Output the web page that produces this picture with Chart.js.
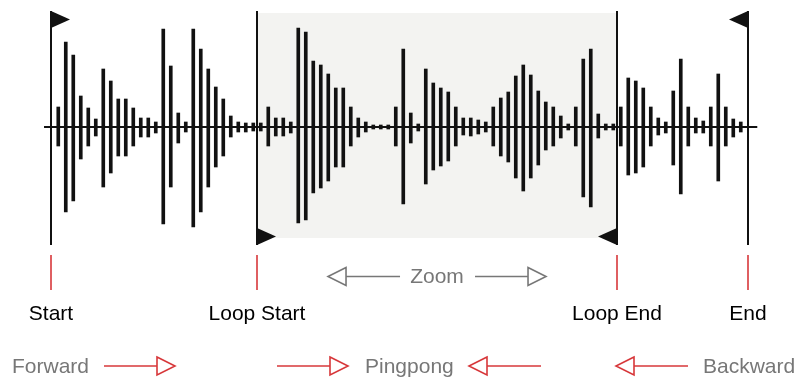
<!DOCTYPE html>
<html>
<head>
<meta charset="utf-8">
<script src="https://cdn.jsdelivr.net/npm/chart.js@4.4.1/dist/chart.umd.min.js"></script>
<style>
  html, body { margin: 0; padding: 0; background: #fff; }
  #wrap { width: 801px; height: 379px; }
</style>
</head>
<body>
<div id="wrap"><canvas id="chart"></canvas></div>
<script>
// sample amplitudes above / below the centre line, one per sample
const upper = [20, 85, 72, 31, 19, 8, 58, 46, 28, 28, 19, 9, 9, 5, 98, 61, 14, 5, 98, 78,
  58, 40, 28, 11, 5, 4, 4, 4, 20, 9, 9, 5, 99, 95, 66, 62, 53, 39, 39, 20,
  9, 5, 2, 2, 2, 20, 78, 14, 3, 58, 44, 39, 35, 20, 9, 9, 7, 5, 20, 29,
  35, 51, 62, 52, 36, 25, 20, 11, 3, 20, 68, 78, 13, 3, 3, 20, 49, 46, 39, 20,
  9, 5, 36, 68, 20, 9, 6, 20, 53, 20, 8, 5];
const lower = [19, 85, 74, 32, 19, 9, 60, 46, 29, 29, 19, 10, 10, 6, 97, 60, 16, 5, 100, 85,
  60, 40, 29, 10, 5, 5, 4, 4, 19, 9, 9, 6, 96, 93, 66, 61, 54, 40, 40, 19,
  10, 5, 2, 2, 2, 19, 77, 16, 4, 57, 43, 39, 34, 19, 8, 9, 7, 5, 19, 29,
  35, 51, 64, 51, 38, 23, 19, 11, 3, 19, 70, 80, 11, 3, 3, 19, 48, 46, 40, 19,
  8, 6, 38, 67, 19, 6, 6, 19, 54, 19, 10, 5];

// markers, in sample units
const markerNames = ["Start", "Loop Start", "Loop End", "End"];
const markerPos = [-1, 26.5, 74.5, 92];
const flagSide = ["top", "bottom", "bottom", "top"];
const flagDir = [1, 1, -1, -1];

const zoomLabel = "Zoom";
const modeLabels = ["Forward", "Pingpong", "Backward"];

const samples = upper.map((u, i) => ({ x: i, y: [-lower[i], u] }));

const INK = "#111111";
const RED = "#d7373a";
const GREY = "#777777";
const FONT = '21px "Liberation Sans", Arial, sans-serif';

function arrow(ctx, from, to, y, color) {
  const dir = to > from ? 1 : -1;
  const base = to - dir * 18;
  ctx.strokeStyle = color;
  ctx.lineWidth = 1.6;
  ctx.beginPath();
  ctx.moveTo(from, y);
  ctx.lineTo(base, y);
  ctx.stroke();
  ctx.beginPath();
  ctx.moveTo(base, y - 9);
  ctx.lineTo(to, y);
  ctx.lineTo(base, y + 9);
  ctx.closePath();
  ctx.stroke();
}

const decor = {
  id: "decor",
  beforeDatasetsDraw(chart) {
    const { ctx, scales: { x } } = chart;
    const x0 = x.getPixelForValue(markerPos[1]);
    const x1 = x.getPixelForValue(markerPos[2]);
    ctx.save();
    ctx.fillStyle = "#f3f3f1";
    ctx.fillRect(x0, 13, x1 - x0, 225);
    ctx.restore();
  },
  afterDatasetsDraw(chart) {
    const { ctx, scales: { x, y } } = chart;
    const cy = y.getPixelForValue(0);
    ctx.save();

    // centre line
    ctx.strokeStyle = INK;
    ctx.lineWidth = 2;
    ctx.beginPath();
    ctx.moveTo(x.getPixelForValue(-1.9), cy);
    ctx.lineTo(x.getPixelForValue(93.2), cy);
    ctx.stroke();

    ctx.font = FONT;
    markerPos.forEach((p, i) => {
      const px = Math.round(x.getPixelForValue(p));
      // marker line
      ctx.strokeStyle = INK;
      ctx.lineWidth = 2;
      ctx.beginPath();
      ctx.moveTo(px, 11);
      ctx.lineTo(px, 245);
      ctx.stroke();
      // flag
      const top = flagSide[i] === "top" ? 11 : 228;
      ctx.fillStyle = INK;
      ctx.beginPath();
      ctx.moveTo(px, top);
      ctx.lineTo(px + flagDir[i] * 19, top + 8.5);
      ctx.lineTo(px, top + 17);
      ctx.closePath();
      ctx.fill();
      // red tick
      ctx.strokeStyle = RED;
      ctx.lineWidth = 1.6;
      ctx.beginPath();
      ctx.moveTo(px, 255);
      ctx.lineTo(px, 290);
      ctx.stroke();
      // label
      ctx.fillStyle = "#000";
      ctx.textAlign = "center";
      ctx.fillText(markerNames[i], px, 320);
    });

    // zoom row
    const lx = x.getPixelForValue(markerPos[1]);
    const rx = x.getPixelForValue(markerPos[2]);
    const mid = (lx + rx) / 2;
    ctx.fillStyle = GREY;
    ctx.textAlign = "center";
    ctx.fillText(zoomLabel, mid, 283);
    arrow(ctx, mid - 37, lx + 71, 276.5, GREY);
    arrow(ctx, mid + 38, rx - 71, 276.5, GREY);

    // play modes row
    ctx.textAlign = "left";
    ctx.fillStyle = GREY;
    ctx.fillText(modeLabels[0], 12, 372.5);
    ctx.fillText(modeLabels[1], 365, 372.5);
    ctx.fillText(modeLabels[2], 703, 372.5);
    arrow(ctx, 104, 175, 366, RED);
    arrow(ctx, 277, 348, 366, RED);
    arrow(ctx, 541, 469, 366, RED);
    arrow(ctx, 688, 616, 366, RED);

    ctx.restore();
  }
};

new Chart(document.getElementById("chart"), {
  type: "bar",
  data: {
    datasets: [
      {
        data: samples,
        backgroundColor: INK,
        borderWidth: 0,
        barThickness: 3,
        grouped: false,
      },
    ],
  },
  options: {
    responsive: true,
    maintainAspectRatio: false,
    animation: false,
    layout: { padding: 0 },
    scales: {
      x: { type: "linear", min: -7.77, max: 99.03, offset: false, display: false },
      y: { min: -252, max: 127, display: false },
    },
    plugins: {
      legend: { display: false },
      tooltip: { enabled: false },
    },
  },
  plugins: [decor],
});
</script>
</body>
</html>
